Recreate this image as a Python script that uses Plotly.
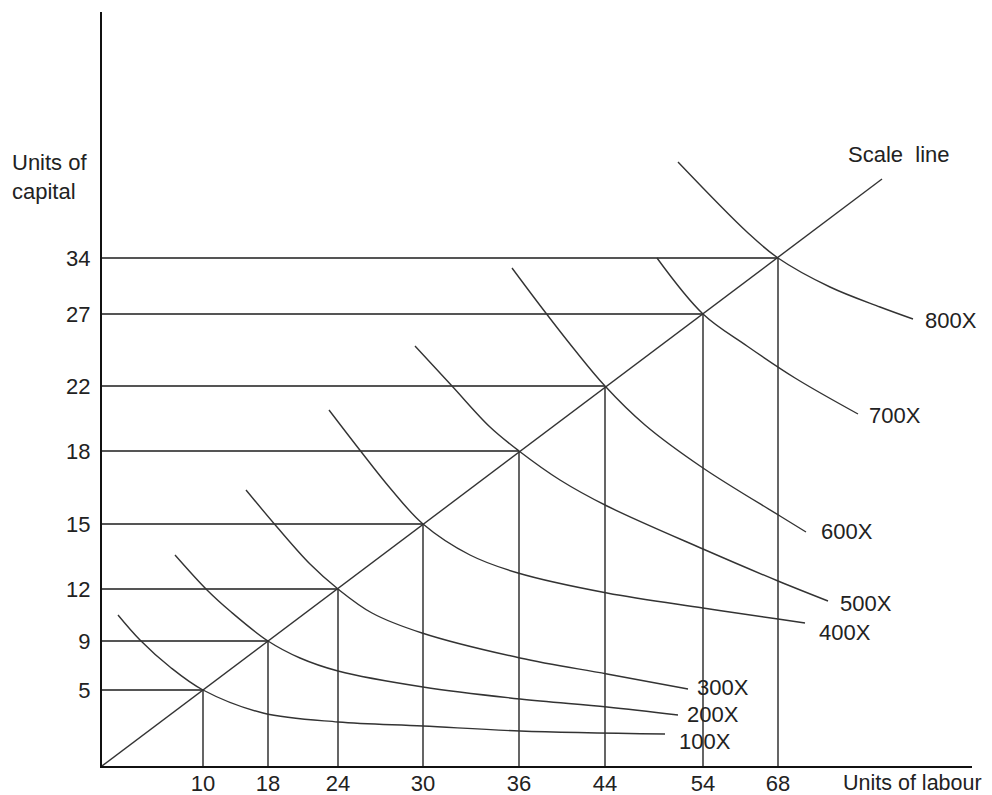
import plotly.graph_objects as go

# ---- data (schematic diagram units; ticks carry the real labels) ----
labour_units = [10, 18, 24, 30, 36, 44, 54, 68]
capital_units = [5, 9, 12, 15, 18, 22, 27, 34]
labour_pos = [101, 166, 236, 321, 417, 503, 601, 676]
capital_pos = [76, 125, 177, 242, 315, 380, 452, 508]

isoquant_labels = ["100X", "200X", "300X", "400X", "500X", "600X", "700X", "800X"]

iso_100_x = [16, 38, 68, 101, 161, 236, 321, 418, 563]
iso_100_y = [151, 126, 99, 76, 53, 44, 40, 35, 32]
iso_200_x = [73, 105, 128, 166, 198, 236, 321, 418, 505, 576]
iso_200_y = [211, 176, 155, 125, 108, 95, 79, 67, 59, 51]
iso_300_x = [144, 175, 208, 236, 270, 320, 418, 505, 586]
iso_300_y = [276, 239, 202, 177, 153, 133, 108, 92, 77]
iso_400_x = [227, 257, 288, 321, 368, 416, 505, 601, 676, 703]
iso_400_y = [356, 317, 278, 242, 211, 193, 173, 158, 147, 143]
iso_500_x = [313, 350, 388, 417, 458, 505, 601, 676, 726]
iso_500_y = [420, 380, 339, 315, 286, 260, 217, 185, 165]
iso_600_x = [410, 440, 472, 503, 543, 601, 678, 704]
iso_600_y = [498, 458, 417, 380, 341, 298, 250, 234]
iso_700_x = [555, 601, 645, 693, 756]
iso_700_y = [508, 452, 420, 388, 352]
iso_800_x = [576, 645, 676, 728, 778, 811]
iso_800_y = [604, 534, 508, 479, 459, 447]

iso_xs = [iso_100_x, iso_200_x, iso_300_x, iso_400_x, iso_500_x, iso_600_x, iso_700_x, iso_800_x]
iso_ys = [iso_100_y, iso_200_y, iso_300_y, iso_400_y, iso_500_y, iso_600_y, iso_700_y, iso_800_y]

scale_line_x = [0, 780]
scale_line_y = [0, 587]

# label offsets from each curve's end (pixels)
label_dx = [12, 7, 7, 12, 10, 13, 9, 10]
label_dy = [-7, 1, 2, -9, -2, 1, -1, -1]

FONT = "Liberation Sans, Arial, sans-serif"
FS = 22
LINE = "#333333"
GUIDE = "#555555"
TXT = "#222222"

fig = go.Figure()

# horizontal and vertical guide lines to each expansion point
for lx, ky in zip(labour_pos, capital_pos):
    fig.add_trace(go.Scatter(x=[0, lx], y=[ky, ky], mode="lines",
                             line=dict(color=GUIDE, width=2), hoverinfo="skip"))
    fig.add_trace(go.Scatter(x=[lx, lx], y=[0, ky], mode="lines",
                             line=dict(color=GUIDE, width=1.8), hoverinfo="skip"))

# scale line
fig.add_trace(go.Scatter(x=scale_line_x, y=scale_line_y, mode="lines",
                         line=dict(color=LINE, width=1.4), hoverinfo="skip"))

# isoquants
for xs, ys in zip(iso_xs, iso_ys):
    fig.add_trace(go.Scatter(x=xs, y=ys, mode="lines",
                             line=dict(color=LINE, width=1.4, shape="spline", smoothing=1.0),
                             hoverinfo="skip"))

annotations = []
for lab, xs, ys, dx, dy in zip(isoquant_labels, iso_xs, iso_ys, label_dx, label_dy):
    annotations.append(dict(x=xs[-1], y=ys[-1], text=lab, showarrow=False,
                            xanchor="left", yanchor="middle", xshift=dx, yshift=dy,
                            font=dict(family=FONT, size=FS, color=TXT)))

annotations += [
    dict(x=scale_line_x[-1], y=scale_line_y[-1], text="Scale  line", showarrow=False,
         xanchor="left", yanchor="middle", xshift=-36, yshift=25,
         font=dict(family=FONT, size=FS, color=TXT)),
    dict(xref="paper", yref="paper", x=1.0, y=0, text="Units of labour", showarrow=False,
         xanchor="left", yanchor="middle", xshift=-131, yshift=-17,
         font=dict(family=FONT, size=21.5, color=TXT)),
    dict(xref="paper", yref="paper", x=0, y=1, text="Units of<br>capital", showarrow=False,
         xanchor="left", yanchor="top", align="left", xshift=-92, yshift=-136,
         font=dict(family=FONT, size=FS, color=TXT)),
]

# the page body has an 8px default margin, so the figure is 8px smaller each way
fig.update_layout(
    width=984, height=787,
    margin=dict(l=94, r=20, t=4, b=29, autoexpand=False),
    paper_bgcolor="white", plot_bgcolor="white",
    showlegend=False,
    annotations=annotations,
    xaxis=dict(range=[0, 870], showgrid=False, zeroline=False, automargin=False,
               showline=True, linecolor="#111", linewidth=2,
               tickmode="array", tickvals=labour_pos, ticktext=[str(v) for v in labour_units],
               ticks="", ticklabelstandoff=-3,
               tickfont=dict(family=FONT, size=FS, color=TXT)),
    yaxis=dict(range=[0, 754], showgrid=False, zeroline=False, automargin=False,
               showline=True, linecolor="#111", linewidth=2,
               tickmode="array", tickvals=capital_pos, ticktext=[str(v) for v in capital_units],
               ticks="", ticklabelstandoff=5,
               tickfont=dict(family=FONT, size=FS, color=TXT)),
)

fig.write_html("out.html")
